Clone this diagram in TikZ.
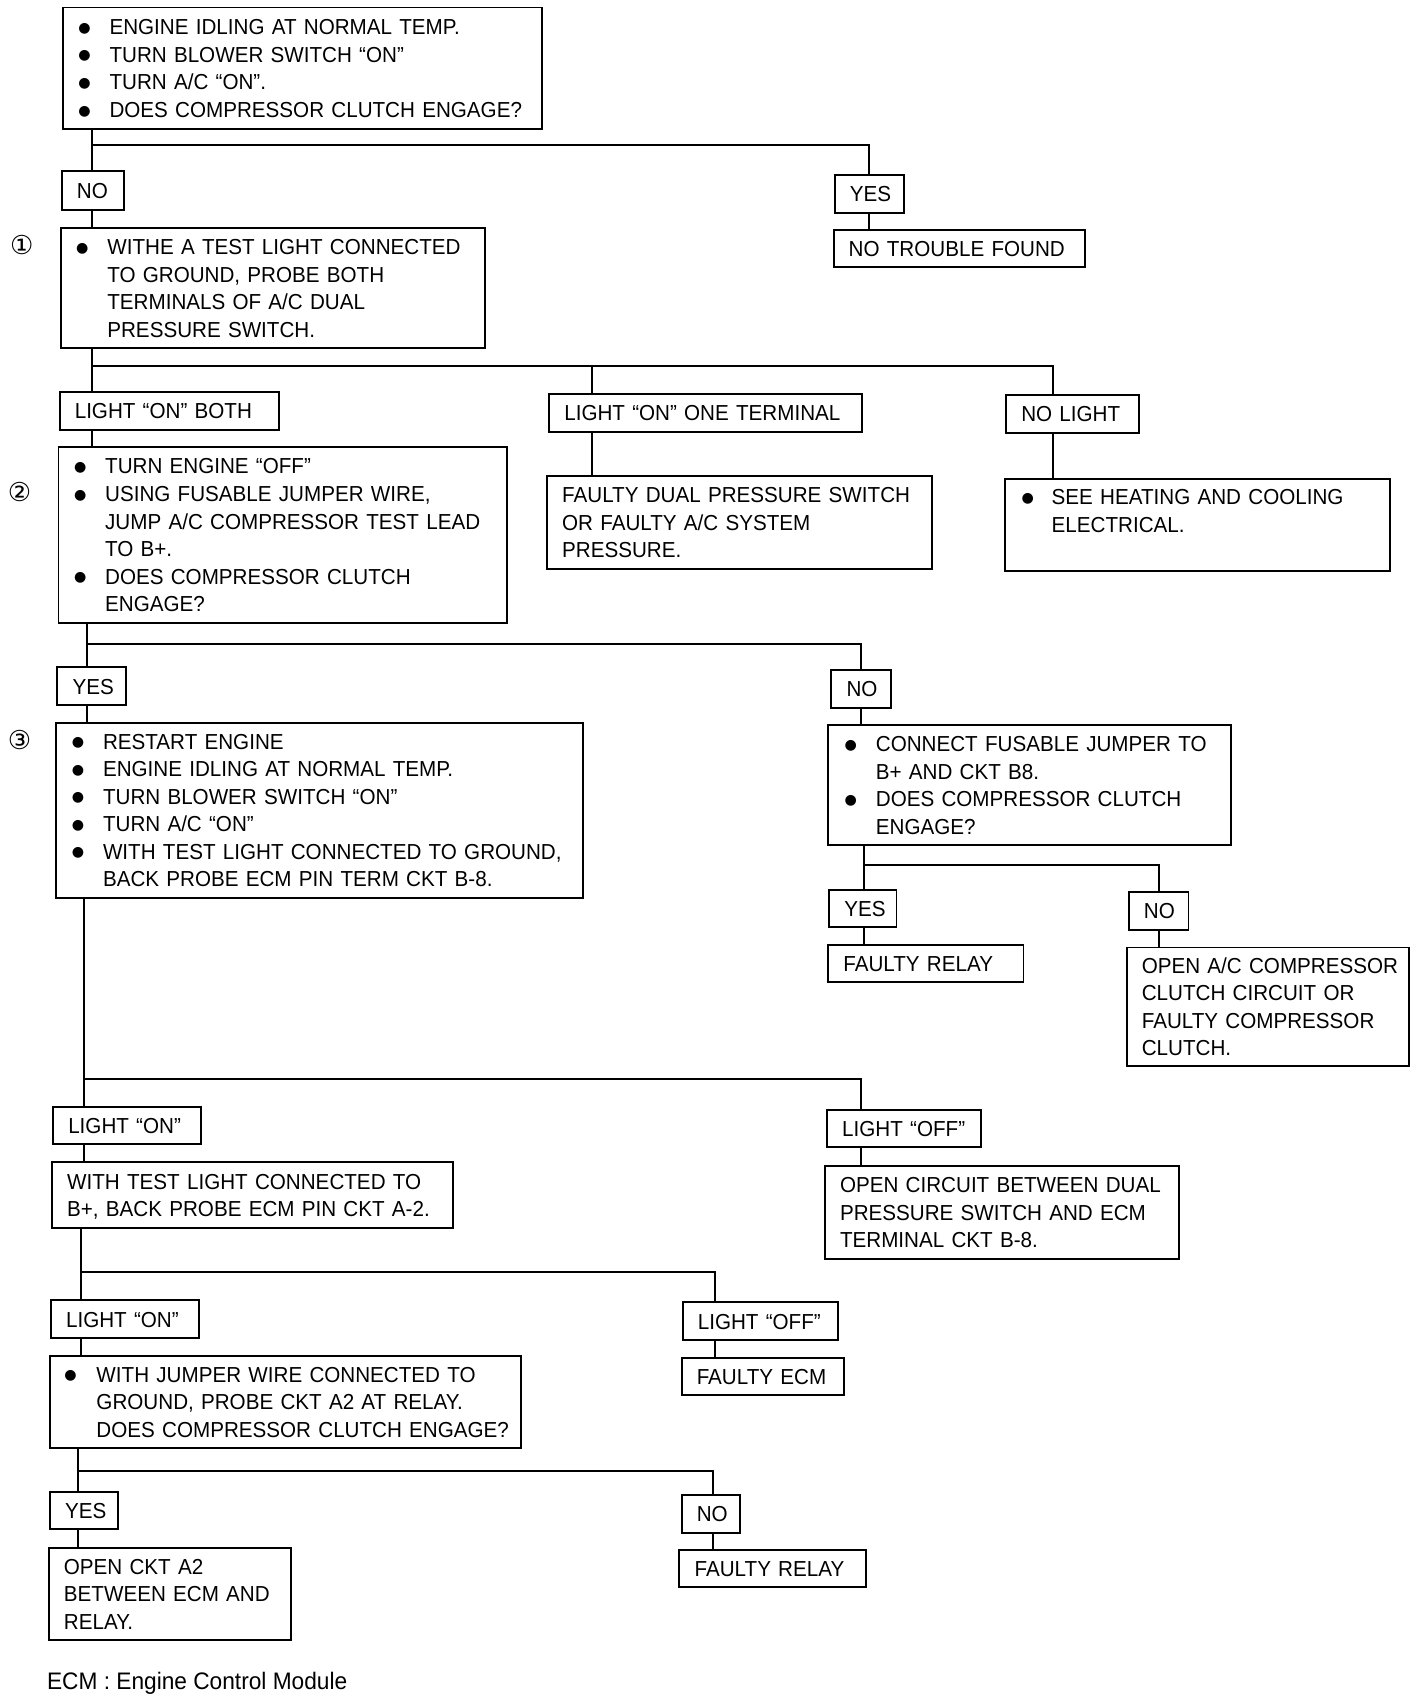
\documentclass[tikz,border=0pt]{standalone}
\usepackage{fontspec}
\setmainfont{Liberation Sans}[FakeStretch=0.95]
\newfontfamily\dejavu{DejaVu Sans}
\newcommand\mystrut{\rule[-1.8pt]{0pt}{10.8pt}}
\newcommand\bigbul{\raisebox{1.1pt}{\dejavu\fontsize{6.5}{7}\selectfont ●}}
\newcommand\bu[2]{\hspace*{\dimexpr#1-0.6pt\relax}\makebox[\dimexpr#2-#1+0.6pt\relax][l]{\bigbul}}
\newcommand\ct[1]{\hspace*{#1}}
\newcommand\bxn[6]{%
  \pgfmathsetmacro\bxw{(#4-#2)*0.5}%
  \pgfmathsetmacro\bxh{(#5-#3)*0.5}%
  \node[bx,minimum width=\bxw pt,minimum height=\bxh pt,text width=\bxw pt] (#1) at (#2,#3) {#6};}
\begin{document}
\begin{tikzpicture}[x=0.5pt,y=-0.5pt,
  bx/.style={draw,line width=0.9pt,anchor=north west,inner xsep=0pt,inner ysep=0pt,
    align=left,font=\fontsize{10}{12.7}\selectfont,
    execute at begin node=\mystrut,execute at end node=\mystrut},
  ln/.style={line width=0.9pt},
  circ/.style={font=\dejavu\fontsize{12}{12}\selectfont,inner sep=0pt}]
\fill[white] (0,0) rectangle (1312,1568);
\useasboundingbox (0,0) rectangle (1312,1568);
% --- boxes ---
\bxn{b1}{57}{6}{498}{118}{\bu{7.75pt}{21.5pt}ENGINE IDLING AT NORMAL TEMP.\\
  \bu{7.75pt}{21.5pt}TURN BLOWER SWITCH “ON”\\
  \bu{7.75pt}{21.5pt}TURN A/C “ON”.\\
  \bu{7.75pt}{21.5pt}DOES COMPRESSOR CLUTCH ENGAGE?}
\bxn{no1}{56}{157}{113}{193}{\ct{7pt}NO}
\bxn{yes1}{768}{160}{832}{195}{\ct{7pt}YES}
\bxn{ntf}{767}{211}{999}{245}{\ct{7pt}NO TROUBLE FOUND}
\node[circ] (c1) at (20,226) {①};
\bxn{b2}{55}{209}{446}{320}{\bu{7.75pt}{21.5pt}WITHE A TEST LIGHT CONNECTED\\
  \ct{21.5pt}TO GROUND, PROBE BOTH\\
  \ct{21.5pt}TERMINALS OF A/C DUAL\\
  \ct{21.5pt}PRESSURE SWITCH.}
\bxn{lb}{54}{360}{256}{395}{\ct{7pt}LIGHT “ON” BOTH}
\bxn{lot}{505}{362}{793}{397}{\ct{7pt}LIGHT “ON” ONE TERMINAL}
\bxn{nl}{926}{363}{1048}{398}{\ct{7pt}NO LIGHT}
\node[circ] (c2) at (18,453) {②};
\bxn{b3}{53}{411}{466}{573}{\bu{7.75pt}{21.5pt}TURN ENGINE “OFF”\\
  \bu{7.75pt}{21.5pt}USING FUSABLE JUMPER WIRE,\\
  \ct{21.5pt}JUMP A/C COMPRESSOR TEST LEAD\\
  \ct{21.5pt}TO B+.\\
  \bu{7.75pt}{21.5pt}DOES COMPRESSOR CLUTCH\\
  \ct{21.5pt}ENGAGE?}
\bxn{fd}{503}{438}{858}{523}{\ct{7pt}FAULTY DUAL PRESSURE SWITCH\\
  \ct{7pt}OR FAULTY A/C SYSTEM\\
  \ct{7pt}PRESSURE.}
\bxn{see}{925}{440}{1280}{525}{\bu{8.25pt}{21.5pt}SEE HEATING AND COOLING\\
  \ct{21.5pt}ELECTRICAL.\\ \mbox{}}
\bxn{yes2}{52}{614}{115}{649}{\ct{7pt}YES}
\bxn{no2}{765}{616}{820}{651}{\ct{7pt}NO}
\node[circ] (c3) at (18,682) {③};
\bxn{b4}{51}{665}{536}{826}{\bu{7.75pt}{21.5pt}RESTART ENGINE\\
  \bu{7.75pt}{21.5pt}ENGINE IDLING AT NORMAL TEMP.\\
  \bu{7.75pt}{21.5pt}TURN BLOWER SWITCH “ON”\\
  \bu{7.75pt}{21.5pt}TURN A/C “ON”\\
  \bu{7.75pt}{21.5pt}WITH TEST LIGHT CONNECTED TO GROUND,\\
  \ct{21.5pt}BACK PROBE ECM PIN TERM CKT B-8.}
\bxn{b5}{762}{667}{1133}{778}{\bu{8.25pt}{22pt}CONNECT FUSABLE JUMPER TO\\
  \ct{22pt}B+ AND CKT B8.\\
  \bu{8.25pt}{22pt}DOES COMPRESSOR CLUTCH\\
  \ct{22pt}ENGAGE?}
\bxn{yes3}{763}{819}{825}{853}{\ct{7pt}YES}
\bxn{fr1}{762}{870}{942}{904}{\ct{7pt}FAULTY RELAY}
\bxn{no3}{1039}{821}{1094}{856}{\ct{7pt}NO}
\bxn{oac}{1037}{872}{1297}{981}{\ct{7pt}OPEN A/C COMPRESSOR\\
  \ct{7pt}CLUTCH CIRCUIT OR\\
  \ct{7pt}FAULTY COMPRESSOR\\
  \ct{7pt}CLUTCH.}
\bxn{lon1}{48}{1019}{184}{1053}{\ct{7pt}LIGHT “ON”}
\bxn{loff1}{761}{1022}{903}{1056}{\ct{7pt}LIGHT “OFF”}
\bxn{wtl}{47}{1070}{416}{1130}{\ct{7pt}WITH TEST LIGHT CONNECTED TO\\
  \ct{7pt}B+, BACK PROBE ECM PIN CKT A-2.}
\bxn{oc}{759}{1073}{1085}{1159}{\ct{7pt}OPEN CIRCUIT BETWEEN DUAL\\
  \ct{7pt}PRESSURE SWITCH AND ECM\\
  \ct{7pt}TERMINAL CKT B-8.}
\bxn{lon2}{46}{1197}{182}{1232}{\ct{7pt}LIGHT “ON”}
\bxn{loff2}{628}{1199}{771}{1234}{\ct{7pt}LIGHT “OFF”}
\bxn{fecm}{627}{1250}{777}{1284}{\ct{7pt}FAULTY ECM}
\bxn{jw}{45}{1248}{479}{1333}{\bu{7.25pt}{21.5pt}WITH JUMPER WIRE CONNECTED TO\\
  \ct{21.5pt}GROUND, PROBE CKT A2 AT RELAY.\\
  \ct{21.5pt}DOES COMPRESSOR CLUTCH ENGAGE?}
\bxn{yes4}{45}{1374}{108}{1408}{\ct{7pt}YES}
\bxn{no4}{627}{1376}{681}{1411}{\ct{7pt}NO}
\bxn{oa2}{44}{1425}{267}{1510}{\ct{7pt}OPEN CKT A2\\
  \ct{7pt}BETWEEN ECM AND\\
  \ct{7pt}RELAY.}
\bxn{fr2}{625}{1427}{797}{1461}{\ct{7pt}FAULTY RELAY}
\node[anchor=west,inner sep=0pt,font=\fontsize{11}{13}\selectfont] (foot) at (43,1551) {ECM : Engine Control Module};
% --- connectors ---
\coordinate (j1) at (85,134);
\draw[ln] (b1.south -| j1) -- (j1) -| (yes1.north);
\draw[ln] (j1) -- (no1.north -| j1);
\draw[ln] (no1.south -| j1) -- (b2.north -| j1);
\draw[ln] (yes1.south) -- (ntf.north -| yes1.south);
\coordinate (j2) at (85,337);
\coordinate (j2b) at (545,337);
\coordinate (j2c) at (970,337);
\draw[ln] (b2.south -| j2) -- (lb.north -| j2);
\draw[ln] (j2) -- (j2c) -- (j2c |- nl.north);
\draw[ln] (j2b) -- (j2b |- lot.north);
\draw[ln] (lot.south -| j2b) -- (fd.north -| j2b);
\draw[ln] (nl.south -| j2c) -- (see.north -| j2c);
\draw[ln] (lb.south -| j2) -- (b3.north -| j2);
\coordinate (j3) at (80,593);
\coordinate (j3b) at (793,593);
\draw[ln] (b3.south -| j3) -- (yes2.north -| j3);
\draw[ln] (j3) -- (j3b) -- (j3b |- no2.north);
\draw[ln] (yes2.south -| j3) -- (b4.north -| j3);
\draw[ln] (no2.south -| j3b) -- (b5.north -| j3b);
\coordinate (j4) at (796,797);
\coordinate (j4b) at (1068,797);
\draw[ln] (b5.south -| j4) -- (yes3.north -| j4);
\draw[ln] (j4) -- (j4b) -- (j4b |- no3.north);
\draw[ln] (yes3.south -| j4) -- (fr1.north -| j4);
\draw[ln] (no3.south -| j4b) -- (oac.north -| j4b);
\coordinate (j5) at (77,994);
\coordinate (j5b) at (793,994);
\draw[ln] (b4.south -| j5) -- (lon1.north -| j5);
\draw[ln] (j5) -- (j5b) -- (j5b |- loff1.north);
\draw[ln] (lon1.south -| j5) -- (wtl.north -| j5);
\draw[ln] (loff1.south -| j5b) -- (oc.north -| j5b);
\coordinate (j6) at (75,1172);
\coordinate (j6b) at (659,1172);
\draw[ln] (wtl.south -| j6) -- (lon2.north -| j6);
\draw[ln] (j6) -- (j6b) -- (j6b |- loff2.north);
\draw[ln] (lon2.south -| j6) -- (jw.north -| j6);
\draw[ln] (loff2.south -| j6b) -- (fecm.north -| j6b);
\coordinate (j7) at (72,1355);
\coordinate (j7b) at (657,1355);
\draw[ln] (jw.south -| j7) -- (yes4.north -| j7);
\draw[ln] (j7) -- (j7b) -- (j7b |- no4.north);
\draw[ln] (yes4.south -| j7) -- (oa2.north -| j7);
\draw[ln] (no4.south -| j7b) -- (fr2.north -| j7b);
\end{tikzpicture}
\end{document}
